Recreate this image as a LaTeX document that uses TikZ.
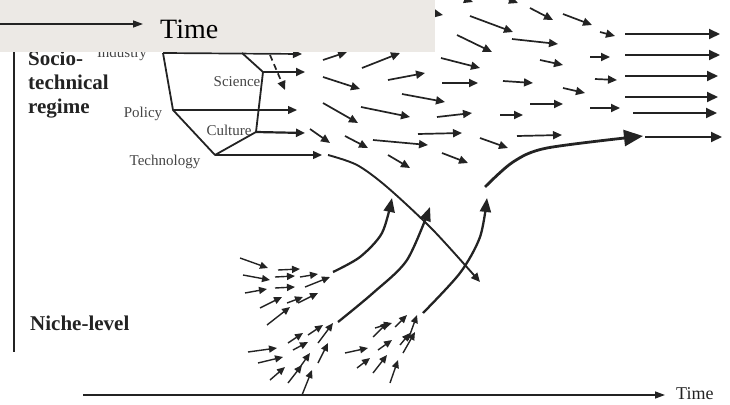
\documentclass[tikz,border=0pt]{standalone}
\usepackage{fontspec}
\setmainfont{Liberation Serif}
\usepackage{xcolor}
\usepackage{tikz}
\usetikzlibrary{arrows.meta}

\definecolor{ink}{HTML}{232323}
\definecolor{boxgray}{HTML}{ECE9E5}

\tikzset{
  fieldarrow/.style={draw=ink, line width=1.7pt, -{Triangle[length=9pt,width=8pt]}},
  longarrow/.style={draw=ink, line width=2pt, -{Triangle[length=11pt,width=10pt]}},
  nicheflow/.style={draw=ink, line width=2.3pt, -{Triangle[length=14pt,width=11pt]}},
  seedarrow/.style={draw=ink, line width=1.4pt, -{Triangle[length=8pt,width=7pt]}},
  frame/.style={draw=ink, line width=1.8pt},
  small/.style={font=\fontsize{15}{17}\selectfont, text=ink!85, inner sep=0pt, anchor=base},
  level/.style={font=\fontsize{21}{24}\selectfont\bfseries, text=ink, inner sep=0pt, anchor=base west},
}

\begin{document}
\begin{tikzpicture}[x=1pt, y=-1pt]
    \path[use as bounding box] (0,0) rectangle (730,404);

    % regime polygon
    \coordinate (I) at (163,53);
    \coordinate (P) at (173,110);
    \coordinate (T) at (215,155);
    \coordinate (C) at (256,132);
    \coordinate (S) at (263,72);
    \coordinate (K) at (242,53);

    \draw[frame, line join=round] (K) -- (S) -- (C) -- (T) -- (P) -- (I);

    \node[small] (industry) at (122,57) {Industry};
    \node[small] (science) at (237,86) {Science};
    \node[small] (policy) at (143,117) {Policy};
    \node[small] (culture) at (229,135) {Culture};
    \node[small] (technology) at (165,165) {Technology};

    \draw[fieldarrow] (I) -- (302,54);
    \draw[fieldarrow] (S) -- (305,72);
    \draw[fieldarrow, line width=1.3pt] (P) -- (297,110);
    \draw[fieldarrow, line width=2.2pt] (C) -- (305,133);
    \draw[fieldarrow, line width=1.3pt] (T) -- (322,155);
    \draw[fieldarrow, dash pattern=on 6pt off 4pt] (270,55) -- (285,90);

    % regime field
    \foreach \xa/\ya/\xb/\yb in {323/60/347/52, 362/68/400/53, 323/77/360/89,
        388/80/425/73, 323/103/358/123, 361/107/410/117, 402/94/445/102,
        310/129/330/143, 345/136/368/148, 373/140/428/145, 388/155/410/168,
        418/134/462/133, 437/117/472/113, 442/83/478/83, 441/58/480/68,
        457/35/492/52, 442/153/468/163, 415/10/443/15, 470/16/513/32,
        450/-6/473/2, 495/-6/518/3, 530/8/553/20, 563/14/592/25,
        600/32/615/36, 512/39/558/44, 540/60/563/65, 590/57/610/57,
        503/81/533/83, 595/79/617/80, 563/88/585/93, 530/104/563/104,
        590/108/620/108, 500/115/523/115, 517/136/562/135, 480/138/508/148}
      \draw[fieldarrow] (\xa,\ya) -- (\xb,\yb);

    \foreach \ya/\xa/\xb in {34/625/720, 55/625/720, 76/625/718,
        97/625/718, 113/633/717, 137/645/722}
      \draw[longarrow] (\xa,\ya) -- (\xb,\ya);

    % niche seeds
    \foreach \xa/\ya/\xb/\yb in {240/258/268/268, 243/275/270/280,
        278/270/300/269, 275/277/295/276, 300/277/318/274, 305/287/330/277,
        245/293/267/289, 275/288/295/287, 260/308/282/297, 287/303/303/297,
        298/303/318/293, 267/325/290/307,
        248/352/277/348, 258/363/283/357, 270/380/285/367, 288/343/303/333,
        293/350/308/342, 308/335/323/325, 318/343/333/323, 288/383/302/365,
        298/370/310/353, 318/363/328/343, 302/395/312/370,
        345/353/368/348, 357/368/370/358, 373/337/388/322, 375/328/392/323,
        378/350/392/340, 373/373/387/355, 395/327/407/315, 400/345/410/333,
        390/383/398/360, 408/340/417/315, 403/353/415/332}
      \draw[seedarrow] (\xa,\ya) -- (\xb,\yb);

    % niche breakthroughs
    \draw[nicheflow] plot[smooth] coordinates {(333,272) (360,257) (382,233) (392,198)};
    \draw[nicheflow] plot[smooth] coordinates {(338,322) (373,293) (407,260) (430,207)};
    \draw[nicheflow] plot[smooth] coordinates {(423,313) (460,273) (480,237) (487,198)};
    \draw[fieldarrow, line width=1.9pt] plot[smooth] coordinates {(328,155) (357,165) (387,187) (433,230) (480,282)};
    \draw[draw=ink, line width=2.8pt, -{Triangle[length=19pt,width=16pt]}]
      plot[smooth] coordinates {(485,187) (513,162) (547,148) (643,136)};

    % levels
    \draw[draw=ink, line width=2.2pt] (14,40) -- (14,352);
    \node[level] (socio) at (28,65) {Socio-};
    \node[level] (technical) at (28,89) {technical};
    \node[level] (regime) at (28,113) {regime};
    \node[level] (niche) at (30,330) {Niche-level};

    % time axis
    \coordinate (t0) at (83,395);
    \coordinate (t1) at (665,395);
    \draw[draw=ink, line width=1.3pt, -{Triangle[length=10pt,width=7pt]}] (t0) -- (t1);
    \node[font=\fontsize{18}{20}\selectfont, text=ink, inner sep=0pt, anchor=base west] (time) at (676,399) {Time};

    % overlay
    \fill[boxgray] (0,0) rectangle (435,52);
    \coordinate (o0) at (0,24);
    \coordinate (o1) at (143,24);
    \draw[draw=ink, line width=1.3pt, -{Triangle[length=10pt,width=7pt]}] (o0) -- (o1);
    \node[font=\fontsize{28}{30}\selectfont, text=black, inner sep=0pt, anchor=base west] (overlaytime) at (160,38) {Time};
\end{tikzpicture}
\end{document}
